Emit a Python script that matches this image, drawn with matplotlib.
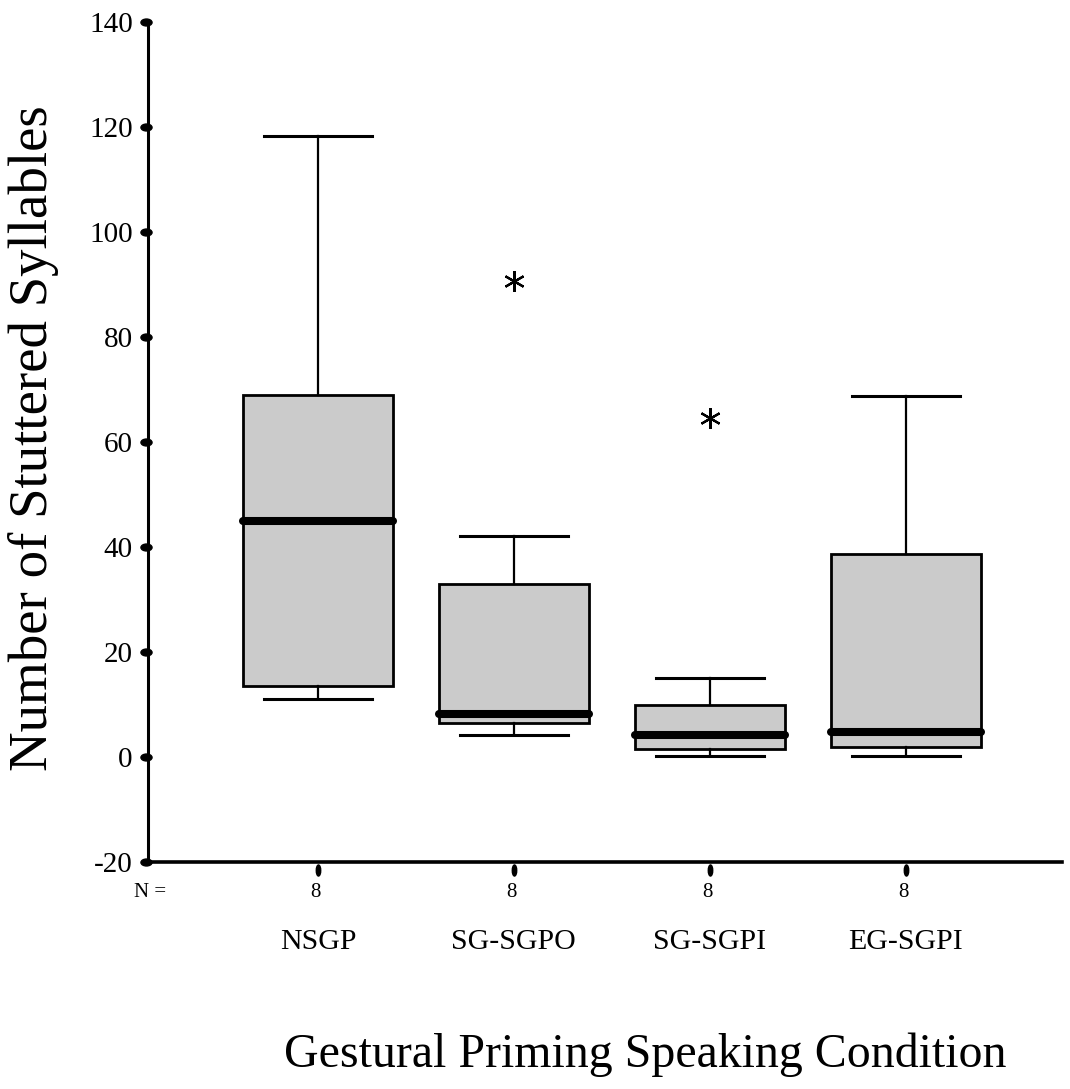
import matplotlib
matplotlib.use("Agg")
import matplotlib.pyplot as plt
from matplotlib.path import Path
from matplotlib.transforms import Affine2D

plt.rcParams['font.family'] = ['Liberation Serif', 'DejaVu Serif']

# data
conditions = ["NSGP", "SG-SGPO", "SG-SGPI", "EG-SGPI"]
n_counts = [8, 8, 8, 8]
whislo = [11.0, 4.2, 0.2, 0.2]
q1 = [13.4, 6.5, 1.5, 1.8]
med = [45.0, 8.1, 4.2, 4.7]
q3 = [69.0, 32.9, 9.9, 38.6]
whishi = [118.2, 42.0, 15.1, 68.8]
outliers = [[], [90.7], [64.5], []]

yticks = [-20, 0, 20, 40, 60, 80, 100, 120, 140]

stats = []
for i in range(len(conditions)):
    stats.append({
        "label": conditions[i],
        "whislo": whislo[i], "q1": q1[i], "med": med[i],
        "q3": q3[i], "whishi": whishi[i], "fliers": outliers[i],
    })

fig = plt.figure(figsize=(10.70, 10.89), dpi=100)
ax = fig.add_axes([0.1383, 0.2087, 0.854, 0.7711])

positions = list(range(1, len(conditions) + 1))
ax.bxp(stats, positions=positions, widths=0.765, capwidths=0.55,
       patch_artist=True, showfliers=True,
       boxprops=dict(facecolor="#cbcbcb", edgecolor="black", linewidth=2.0),
       medianprops=dict(color="black", linewidth=5.8, solid_capstyle="round"),
       whiskerprops=dict(color="black", linewidth=1.6),
       capprops=dict(color="black", linewidth=2.2),
       flierprops=dict(marker=(6, 2, 0), markersize=15, markeredgecolor="black",
                       markeredgewidth=1.6, linestyle="none"))

ax.set_xlim(0.133, 4.796)
ax.set_ylim(-20, 140)

for s in ["top", "right"]:
    ax.spines[s].set_visible(False)
ax.spines["left"].set_linewidth(2.2)
ax.spines["bottom"].set_linewidth(2.6)

# dot-like ticks
ax.set_yticks(yticks)
ax.set_yticklabels([str(v) for v in yticks], fontsize=21)
ax.tick_params(axis="y", length=0, pad=11)
hdot = Path.unit_circle().transformed(Affine2D().scale(1.6, 1.0))
ax.plot([0.133] * len(yticks), yticks, linestyle="none", marker=hdot,
        markersize=8, color="black", clip_on=False, zorder=5,
        transform=ax.transData + Affine2D().translate(-2, 0))

ax.set_xticks(positions)
ax.set_xticklabels([])
ax.tick_params(axis="x", length=0)
vdot = Path.unit_circle().transformed(Affine2D().scale(0.8, 2.0))
ax.plot(positions, [-20] * len(positions), linestyle="none", marker=vdot,
        markersize=8, color="black", clip_on=False, zorder=5,
        transform=ax.transData + Affine2D().translate(0, -8))

# N counts and category names below the axis
trans = ax.get_xaxis_transform()
ax.text(0.06, -0.037, "N =", transform=trans, fontsize=15, ha="left", va="center")
for p, n, c in zip(positions, n_counts, conditions):
    ax.text(p - 0.01, -0.037, str(n), transform=trans, fontsize=15, ha="center", va="center")
    ax.text(p, -0.096, c, transform=trans, fontsize=21.5, ha="center", va="center")

fig.text(0.603, 0.031, "Gestural Priming Speaking Condition", fontsize=34.5,
         ha="center", va="center")
fig.text(0.031, 0.598, "Number of Stuttered Syllables", fontsize=39.5,
         rotation=90, ha="center", va="center")

fig.savefig("out.png", dpi=100, facecolor="white")
